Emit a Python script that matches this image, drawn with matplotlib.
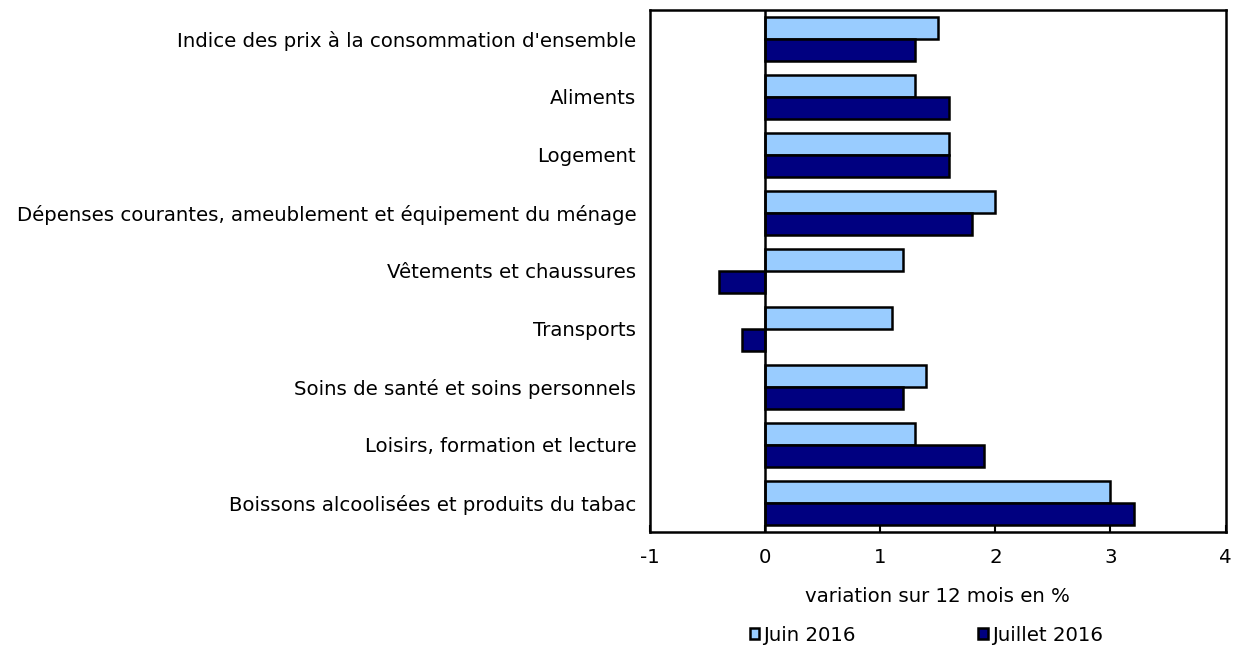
import numpy as np
import matplotlib.pyplot as plt

categories = [
    "Indice des prix à la consommation d'ensemble",
    "Aliments",
    "Logement",
    "Dépenses courantes, ameublement et équipement du ménage",
    "Vêtements et chaussures",
    "Transports",
    "Soins de santé et soins personnels",
    "Loisirs, formation et lecture",
    "Boissons alcoolisées et produits du tabac",
]
juin_2016 = [1.5, 1.3, 1.6, 2.0, 1.2, 1.1, 1.4, 1.3, 3.0]
juillet_2016 = [1.3, 1.6, 1.6, 1.8, -0.4, -0.2, 1.2, 1.9, 3.2]

plt.rcParams['font.family'] = ['DejaVu Sans']
plt.rcParams['font.size'] = 14.2
plt.rcParams['axes.unicode_minus'] = False

fig = plt.figure(figsize=(12.43, 6.5), dpi=100)
ax = fig.add_axes([0.523, 0.182, 0.463, 0.803])

y = np.arange(len(categories))
h = 0.38
ax.barh(y - h / 2, juin_2016, height=h, color='#99ccff', edgecolor='black',
        linewidth=1.8, label='Juin 2016')
ax.barh(y + h / 2, juillet_2016, height=h, color='#000080', edgecolor='black',
        linewidth=1.8, label='Juillet 2016')

ax.axvline(0, color='black', linewidth=1.8, zorder=3)
ax.set_xlim(-1, 4)
ax.set_ylim(len(categories) - 0.5, -0.5)
ax.set_yticks(y)
ax.set_yticklabels(categories)
ax.tick_params(axis='y', length=0, pad=10)
ax.set_xticks([-1, 0, 1, 2, 3, 4])
ax.tick_params(axis='x', direction='in', length=5, width=1.5, pad=12)
for s in ax.spines.values():
    s.set_linewidth(1.8)

ax.set_xlabel('variation sur 12 mois en %', labelpad=14)
leg = ax.legend(loc='upper center', bbox_to_anchor=(0.48, -0.165), ncol=2,
                frameon=False, handlelength=0.5, handleheight=0.5,
                handletextpad=0.2, columnspacing=6.2, borderaxespad=0)

fig.savefig('out.png', dpi=100)
